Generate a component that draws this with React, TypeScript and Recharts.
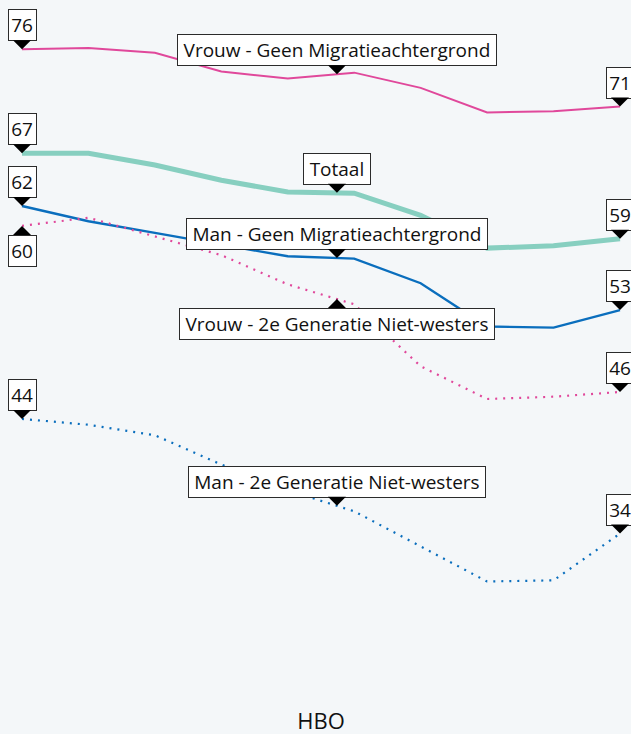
import React from 'react';
import { LineChart, Line, XAxis, YAxis, ReferenceDot, Label } from 'recharts';

// Hidden period categories (10 measurement moments)
const PERIODS = ['2013', '2014', '2015', '2016', '2017', '2018', '2019', '2020', '2021', '2022'];

const VROUW_GEEN = [75.5, 75.6, 75.2, 73.6, 73.0, 73.5, 72.2, 70.1, 70.2, 70.6];
const TOTAAL = [66.6, 66.6, 65.6, 64.3, 63.3, 63.2, 61.3, 58.5, 58.7, 59.3];
const MAN_GEEN = [62.1, 60.8, 59.8, 58.8, 57.8, 57.6, 55.5, 51.8, 51.7, 53.2];
const VROUW_2E = [60.4, 61.1, 59.5, 57.9, 55.4, 53.7, 48.4, 45.6, 45.8, 46.2];
const MAN_2E = [43.9, 43.4, 42.5, 40.0, 37.8, 36.0, 33.0, 30.0, 30.1, 34.1];

const X_TITLE = 'HBO';
const LABEL_POS = 4.74; // position (in period index) of the series name callouts

const SERIES = [
  { key: 'totaal', name: 'Totaal', values: TOTAAL, color: '#87cfc0', width: 5, dash: undefined, startBelow: false, nameBelow: false },
  { key: 'vrouwGeen', name: 'Vrouw - Geen Migratieachtergrond', values: VROUW_GEEN, color: '#e0489b', width: 2, dash: undefined, startBelow: false, nameBelow: false },
  { key: 'manGeen', name: 'Man - Geen Migratieachtergrond', values: MAN_GEEN, color: '#0a6ebd', width: 2.4, dash: undefined, startBelow: false, nameBelow: false },
  { key: 'vrouw2e', name: 'Vrouw - 2e Generatie Niet-westers', values: VROUW_2E, color: '#e0489b', width: 2.2, dash: '2 6', startBelow: true, nameBelow: true },
  { key: 'man2e', name: 'Man - 2e Generatie Niet-westers', values: MAN_2E, color: '#0a6ebd', width: 2.2, dash: '2 6', startBelow: false, nameBelow: false },
];

const data = PERIODS.map((p, i) => {
  const row: Record<string, number | string> = { period: p, idx: i };
  SERIES.forEach((s) => {
    row[s.key] = s.values[i];
  });
  return row;
});

const FONT_FAMILY = "'Open Sans', 'Noto Sans', sans-serif";
const FONT_SIZE = 19;

let ctx: CanvasRenderingContext2D | null = null;
function measure(text: string): number {
  if (!ctx) ctx = document.createElement('canvas').getContext('2d');
  if (!ctx) return text.length * 10;
  ctx.font = `${FONT_SIZE}px ${FONT_FAMILY}`;
  return ctx.measureText(text).width;
}

function Callout({ cx, cy, text, below, pad }: { cx: number; cy: number; text: string; below: boolean; pad: number }) {
  if (cx == null || cy == null || isNaN(cx) || isNaN(cy)) return null;
  const w = Math.round(measure(text) + 2 * pad);
  const h = 31;
  const a = 9;
  const aw = 9;
  const left = Math.round(cx - w / 2) + 0.5;
  let top: number;
  let arrow: string;
  if (!below) {
    top = Math.round(cy - a - h) + 0.5;
    arrow = `M${cx - aw},${cy - a} L${cx + aw},${cy - a} L${cx},${cy} Z`;
  } else {
    top = Math.round(cy + a) + 0.5;
    arrow = `M${cx - aw},${cy + a} L${cx + aw},${cy + a} L${cx},${cy} Z`;
  }
  return (
    <g>
      <rect x={left} y={top} width={w} height={h} fill="#ffffff" stroke="#2b2b2b" strokeWidth={1} />
      <path d={arrow} fill="#000000" />
      <text
        x={cx}
        y={top + h / 2 + 7}
        textAnchor="middle"
        fontFamily={FONT_FAMILY}
        fontSize={FONT_SIZE}
        fill="#111111"
      >
        {text}
      </text>
    </g>
  );
}

export default function App() {
  const last = PERIODS.length - 1;
  const i0 = Math.floor(LABEL_POS);
  const frac = LABEL_POS - i0;
  return (
    <div
      style={{
        position: 'absolute',
        left: 0,
        top: 0,
        width: 631,
        height: 734,
        background: '#f4f7f9',
        overflow: 'hidden',
      }}
    >
      <LineChart width={631} height={734} data={data} margin={{ top: 20, right: 11, bottom: 0, left: 22 }}>
        <XAxis
          dataKey="idx"
          type="number"
          domain={[0, last]}
          tick={false}
          axisLine={false}
          tickLine={false}
          height={94}
        >
          <Label
            value={X_TITLE}
            position="insideBottom"
            offset={5}
            fill="#111111"
            fontSize={22}
            fontFamily={FONT_FAMILY}
          />
        </XAxis>
        <YAxis type="number" domain={[25, 78]} hide allowDataOverflow />
        {SERIES.map((s) => (
          <Line
            key={s.key}
            dataKey={s.key}
            name={s.name}
            type="linear"
            stroke={s.color}
            strokeWidth={s.width}
            strokeDasharray={s.dash}
            dot={false}
            activeDot={false}
            isAnimationActive={false}
          />
        ))}
        {SERIES.map((s) => {
          const yv = s.values[i0] + frac * (s.values[i0 + 1] - s.values[i0]);
          return (
            <ReferenceDot
              key={`name-${s.key}`}
              x={LABEL_POS}
              y={yv}
              r={0}
              ifOverflow="visible"
              shape={(p: any) => <Callout cx={p.cx} cy={p.cy} text={s.name} below={s.nameBelow} pad={6} />}
            />
          );
        })}
        {SERIES.map((s) => (
          <ReferenceDot
            key={`start-${s.key}`}
            x={0}
            y={s.values[0]}
            r={0}
            ifOverflow="visible"
            shape={(p: any) => (
              <Callout cx={p.cx} cy={p.cy} text={String(Math.round(s.values[0]))} below={s.startBelow} pad={3} />
            )}
          />
        ))}
        {SERIES.map((s) => (
          <ReferenceDot
            key={`end-${s.key}`}
            x={last}
            y={s.values[last]}
            r={0}
            ifOverflow="visible"
            shape={(p: any) => (
              <Callout cx={p.cx} cy={p.cy} text={String(Math.round(s.values[last]))} below={false} pad={3} />
            )}
          />
        ))}
      </LineChart>
    </div>
  );
}
